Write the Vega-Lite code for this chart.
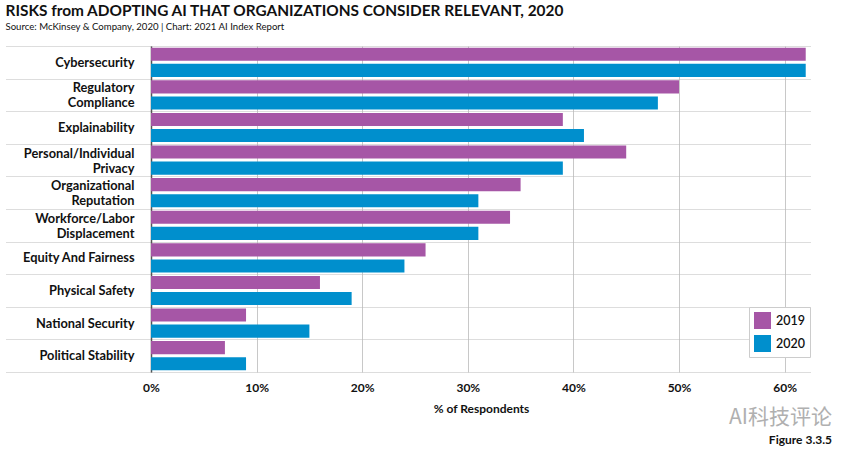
{
  "$schema": "https://vega.github.io/schema/vega-lite/v6.json",
  "background": "white",
  "padding": {"left": 5, "top": 4, "right": 5, "bottom": 2},
  "title": {
    "text": "RISKS from ADOPTING AI THAT ORGANIZATIONS CONSIDER RELEVANT, 2020",
    "subtitle": "Source: McKinsey & Company, 2020 | Chart: 2021 AI Index Report",
    "anchor": "start",
    "frame": "bounds",
    "font": "Lato",
    "fontSize": 15.4,
    "fontWeight": "bold",
    "color": "#111111",
    "subtitleFont": "Lato",
    "subtitleFontSize": 9.6,
    "subtitleColor": "#111111",
    "subtitlePadding": 3,
    "offset": 8
  },
  "vconcat": [
    {
      "width": 660,
      "height": 326,
      "title": {
        "text": "AI科技评论\u00a0\u00a0\u00a0\u00a0",
        "subtitle": "Figure 3.3.5",
        "orient": "bottom",
        "anchor": "end",
        "frame": "bounds",
        "dx": 21,
        "offset": -7,
        "font": "Noto Sans CJK SC",
        "fontSize": 21,
        "fontWeight": "normal",
        "color": "#b0b0b0",
        "subtitleFont": "Lato",
        "subtitleFontSize": 12,
        "subtitleFontWeight": "bold",
        "subtitleColor": "#111111",
        "subtitlePadding": 7
      },
      "data": {
        "values": [
          {"risk": "Cybersecurity", "year": "2019", "pct": 0.62},
          {"risk": "Cybersecurity", "year": "2020", "pct": 0.62},
          {"risk": "Regulatory Compliance", "year": "2019", "pct": 0.50},
          {"risk": "Regulatory Compliance", "year": "2020", "pct": 0.48},
          {"risk": "Explainability", "year": "2019", "pct": 0.39},
          {"risk": "Explainability", "year": "2020", "pct": 0.41},
          {"risk": "Personal/Individual Privacy", "year": "2019", "pct": 0.45},
          {"risk": "Personal/Individual Privacy", "year": "2020", "pct": 0.39},
          {"risk": "Organizational Reputation", "year": "2019", "pct": 0.35},
          {"risk": "Organizational Reputation", "year": "2020", "pct": 0.31},
          {"risk": "Workforce/Labor Displacement", "year": "2019", "pct": 0.34},
          {"risk": "Workforce/Labor Displacement", "year": "2020", "pct": 0.31},
          {"risk": "Equity And Fairness", "year": "2019", "pct": 0.26},
          {"risk": "Equity And Fairness", "year": "2020", "pct": 0.24},
          {"risk": "Physical Safety", "year": "2019", "pct": 0.16},
          {"risk": "Physical Safety", "year": "2020", "pct": 0.19},
          {"risk": "National Security", "year": "2019", "pct": 0.09},
          {"risk": "National Security", "year": "2020", "pct": 0.15},
          {"risk": "Political Stability", "year": "2019", "pct": 0.07},
          {"risk": "Political Stability", "year": "2020", "pct": 0.09}
        ]
      },
      "mark": {"type": "bar"},
      "encoding": {
        "y": {
          "field": "risk",
          "type": "nominal",
          "sort": null,
          "scale": {"paddingInner": 0, "paddingOuter": 0},
          "axis": {
            "title": null,
            "labelExpr": "indexof(['Regulatory Compliance','Personal/Individual Privacy','Organizational Reputation','Workforce/Labor Displacement'], datum.value) >= 0 ? split(datum.value, ' ') : datum.value",
            "labelOffset": {
              "condition": {
                "test": "indexof(['Regulatory Compliance','Personal/Individual Privacy','Organizational Reputation','Workforce/Labor Displacement'], datum.value) >= 0",
                "value": -7
              },
              "value": 0
            },
            "labelFont": "Lato",
            "labelFontSize": 12.8,
            "labelFontWeight": "bold",
            "labelColor": "#111111",
            "labelLineHeight": 15,
            "labelLimit": 200,
            "tickBand": "extent",
            "ticks": true,
            "tickSize": 145,
            "tickColor": "#bbbbbb",
            "tickDash": [1, 1],
            "tickWidth": 1,
            "labelPadding": -128,
            "grid": true,
            "gridColor": "#bbbbbb",
            "gridDash": [1, 1],
            "gridWidth": 1,
            "domain": true,
            "domainColor": "#555555",
            "domainWidth": 1.5,
            "minExtent": 145,
            "maxExtent": 145
          }
        },
        "yOffset": {
          "field": "year",
          "type": "nominal",
          "scale": {"paddingInner": 0.1875, "paddingOuter": 0.106}
        },
        "x": {
          "field": "pct",
          "type": "quantitative",
          "scale": {"domain": [0, 0.625], "nice": false},
          "axis": {
            "title": "% of Respondents",
            "titleFont": "Lato",
            "titleFontSize": 12,
            "titleFontWeight": "bold",
            "titleColor": "#111111",
            "titlePadding": 10,
            "values": [0, 0.1, 0.2, 0.3, 0.4, 0.5, 0.6],
            "format": ".0%",
            "labelFont": "Lato",
            "labelFontSize": 12,
            "labelFontWeight": "bold",
            "labelColor": "#111111",
            "labelPadding": 10,
            "labelFlush": false,
            "ticks": false,
            "domain": false,
            "grid": true,
            "gridColor": "#c8c8c8",
            "gridWidth": 1
          }
        },
        "color": {
          "field": "year",
          "type": "nominal",
          "scale": {"domain": ["2019", "2020"], "range": ["#a656a6", "#008fcd"]},
          "legend": {
            "title": null,
            "orient": "none",
            "legendX": 598,
            "legendY": 261,
            "direction": "vertical",
            "symbolType": "square",
            "symbolSize": 289,
            "symbolStrokeWidth": 0,
            "labelFont": "Lato",
            "labelFontSize": 12.5,
            "labelFontWeight": 600,
            "labelColor": "#111111",
            "labelOffset": 5,
            "rowPadding": 6,
            "padding": 5,
            "fillColor": "white",
            "strokeColor": "#cccccc"
          }
        }
      }
    }
  ],
  "config": {
    "view": {"stroke": null},
    "concat": {"spacing": 0}
  }
}
